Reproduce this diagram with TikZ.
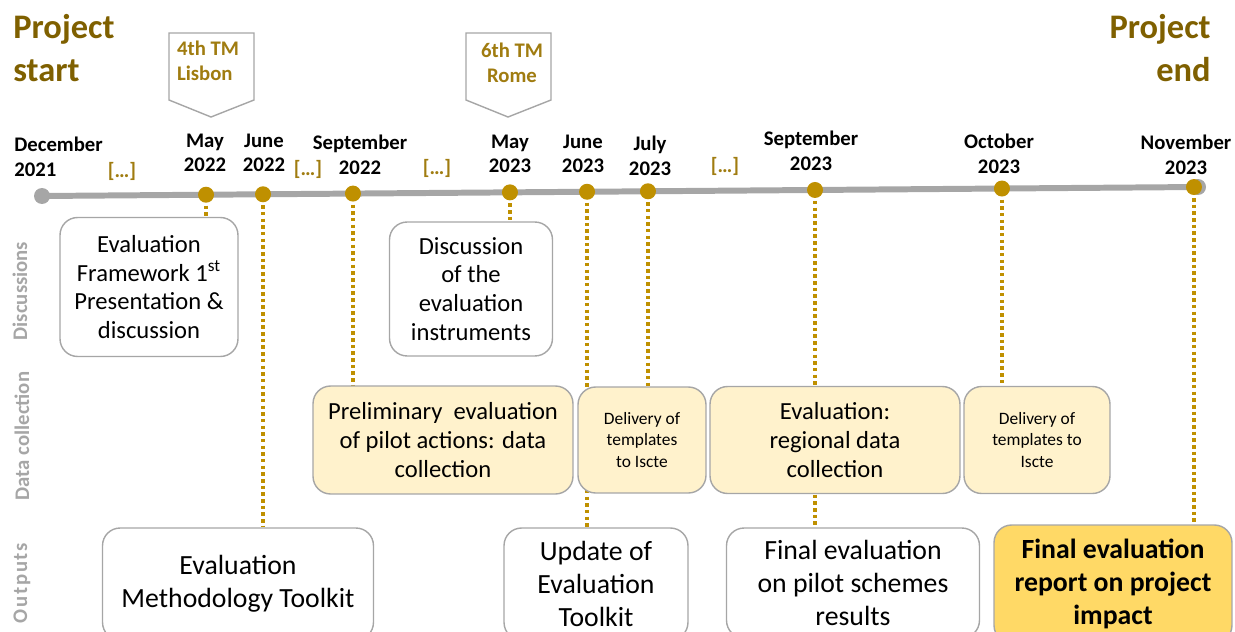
\documentclass[tikz,border=0pt]{standalone}
\usepackage{fontspec}
\setmainfont{Carlito}
\usetikzlibrary{backgrounds}
\definecolor{tlgray}{HTML}{A6A6A6}
\definecolor{gold}{HTML}{BF9000}
\definecolor{darkgold}{HTML}{7F6000}
\definecolor{midgold}{HTML}{A07C10}
\definecolor{paleyellow}{HTML}{FFF2CC}
\definecolor{sunyellow}{HTML}{FFD966}
\tikzset{
  box/.style = {
    rectangle, draw=tlgray, line width=0.8pt,
    rounded corners=10pt, align=center, inner sep=2pt,
  },
  discbox/.style = {box, fill=white, font=\fontsize{14}{16.4}\selectfont},
  databox/.style = {box, fill=paleyellow, font=\fontsize{14}{16.4}\selectfont},
  smallbox/.style = {box, fill=paleyellow, font=\fontsize{9.9}{12}\selectfont},
  outbox/.style = {box, fill=white, font=\fontsize{15.8}{18.8}\selectfont},
  finalbox/.style = {box, fill=sunyellow, font=\bfseries\fontsize{15.8}{18.8}\selectfont},
  milestone/.style = {circle, fill=gold, inner sep=0pt, minimum size=0.32cm},
  enddot/.style = {circle, fill=tlgray, inner sep=0pt, minimum size=0.32cm},
  date/.style = {align=center, inner sep=0pt, font=\bfseries\fontsize{11.8}{14}\selectfont},
  gap/.style = {inner sep=0pt, text=midgold, font=\bfseries\fontsize{11.8}{14}\selectfont},
  link/.style = {gold, line width=2pt, dash pattern=on 2pt off 1.8pt},
  rowlabel/.style = {rotate=90, text=tlgray, inner sep=0pt, font=\bfseries\fontsize{11.8}{14}\selectfont},
  callout/.style = {draw=tlgray, line width=0.8pt, fill=white},
  tmlabel/.style = {align=center, inner sep=0pt, text=midgold, font=\bfseries\fontsize{11.8}{14.5}\selectfont},
  title/.style = {text=darkgold, inner sep=0pt, font=\bfseries\fontsize{19.6}{24}\selectfont},
}

\begin{document}
\begin{tikzpicture}[x=0.02cm, y=-0.02cm]
    \useasboundingbox (0,0) rectangle (1235,632);
    \clip (0,0) rectangle (1235,632);

    % --- Titles ---
    \node[title, anchor=west, align=left]  (pstart) at (13,48)   {Project\\start};
    \node[title, anchor=east, align=right] (pend)   at (1211,48) {Project\\end};

    % --- Meeting callouts ---
    \draw[callout] (169,33) -- (254,33) -- (254,100) -- (211,117) -- (169,100) -- cycle;
    \node[tmlabel, align=left] (tmLisbon) at (208,61) {4th TM\\Lisbon};
    \draw[callout] (466,33) -- (551,33) -- (551,100) -- (508,117) -- (466,100) -- cycle;
    \node[tmlabel] (tmRome) at (512,63) {6th TM\\Rome};

    % --- Timeline ---
    \node[enddot] (tlbegin)  at (42,196) {};
    \node[enddot] (tlfinish) at (1198,187) {};
    \draw[tlgray, line width=3.4pt] (tlbegin.center) -- (tlfinish.center)
      node[milestone, pos=0.1419] (dMay22)  {}
      node[milestone, pos=0.1912] (dJun22)  {}
      node[milestone, pos=0.2690] (dSep22)  {}
      node[milestone, pos=0.4048] (dMay23)  {}
      node[milestone, pos=0.4715] (dJun23)  {}
      node[milestone, pos=0.5242] (dJul23)  {}
      node[milestone, pos=0.6687] (dSep23)  {}
      node[milestone, pos=0.8304] (dOct23)  {}
      node[milestone, pos=0.9965] (dNov23)  {};

    % --- Dates ---
    \node[date, anchor=west, align=left] (lDec21) at (14,157) {December\\2021};
    \node[date] (lMay22) at (205,153)  {May\\2022};
    \node[date] (lJun22) at (264,153)  {June\\2022};
    \node[date] (lSep22) at (360,155)  {September\\2022};
    \node[date] (lMay23) at (510,154)  {May\\2023};
    \node[date] (lJun23) at (583,154)  {June\\2023};
    \node[date] (lJul23) at (650,156)  {July\\2023};
    \node[date] (lSep23) at (811,151)  {September\\2023};
    \node[date] (lOct23) at (999,154)  {October\\2023};
    \node[date] (lNov23) at (1186,155) {November\\2023};
    \node[gap] (gapA) at (122,171) {[…]};
    \node[gap] (gapB) at (308,169) {[…]};
    \node[gap] (gapC) at (437,168) {[…]};
    \node[gap] (gapD) at (725,166) {[…]};

    % --- Rows ---
    \node[rowlabel] (rDisc) at (20,291) {Discussions};
    \node[rowlabel] (rData) at (22,436) {Data collection};
    \node[rowlabel] (rOut)  at (22,583) {\addfontfeatures{LetterSpace=8}Outputs};

    % --- Discussions ---
    \node[discbox, minimum width=3.56cm, minimum height=2.78cm] (frame) at (149,287)
      {Evaluation\\Framework 1\textsuperscript{st}\\Presentation \&\\discussion};
    \node[discbox, minimum width=3.26cm, minimum height=2.68cm] (instr) at (471,289)
      {Discussion\\of the\\evaluation\\instruments};

    % --- Data collection ---
    \node[databox, minimum width=5.2cm, minimum height=2.16cm] (prelim) at (443,440)
      {Preliminary\ \ evaluation\\of pilot actions: data\\collection};
    \node[smallbox, minimum width=2.56cm, minimum height=2.12cm] (deliv1) at (642,440)
      {Delivery of\\templates\\to Iscte};
    \node[databox, minimum width=5.0cm, minimum height=2.14cm] (regional) at (835,440)
      {Evaluation:\\regional data\\collection};
    \node[smallbox, minimum width=2.92cm, minimum height=2.14cm] (deliv2) at (1037,440)
      {Delivery of\\templates to\\Iscte};

    % --- Outputs ---
    \node[outbox, minimum width=5.42cm, minimum height=2.24cm] (toolkit) at (238,584)
      {Evaluation\\Methodology Toolkit};
    \node[outbox, minimum width=3.68cm, minimum height=2.24cm] (update) at (596,584)
      {Update of\\Evaluation\\Toolkit};
    \node[outbox, minimum width=5.06cm, minimum height=2.2cm] (pilotres) at (853,583)
      {Final evaluation\\on pilot schemes\\results};
    \node[finalbox, minimum width=4.76cm, minimum height=2.36cm] (report) at (1113,584)
      {Final evaluation\\report on project\\impact};

    % --- Dotted links, behind the boxes ---
    \begin{pgfonlayer}{background}
      \draw[link] (dMay22) -- (dMay22 |- frame.north);
      \draw[link] (dJun22) -- (dJun22 |- toolkit.north);
      \draw[link] (dSep22) -- (dSep22 |- prelim.north);
      \draw[link] (dMay23) -- (dMay23 |- instr.north);
      \draw[link] (dJun23) -- (dJun23 |- update.north);
      \draw[link] (dJul23) -- (dJul23 |- deliv1.north);
      \draw[link] (dSep23) -- (dSep23 |- pilotres.north);
      \draw[link] (dOct23) -- (dOct23 |- deliv2.north);
      \draw[link] (dNov23) -- (dNov23 |- report.north);
    \end{pgfonlayer}
  \end{tikzpicture}
\end{document}
